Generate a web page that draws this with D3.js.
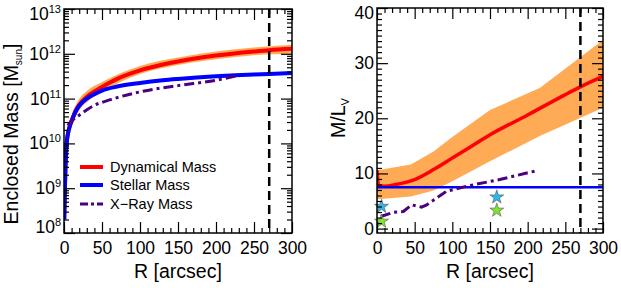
<!DOCTYPE html>
<html>
<head>
<meta charset="utf-8">
<script src="https://cdn.jsdelivr.net/npm/d3@7"></script>
<style>
  html, body { margin: 0; padding: 0; background: #fff; }
  svg { display: block; font-family: "Liberation Sans", Arial, Helvetica, sans-serif; }
</style>
</head>
<body>
<svg id="chart" width="621" height="288"></svg>
<script>
// ---------------- DATA ----------------
// Left panel: enclosed mass (log10 M_sun) vs R [arcsec]
const massRadius      = [0.3, 1, 2, 3.5, 5, 7, 10, 15, 20, 30, 40, 50, 70, 100, 130, 150, 200, 250, 270, 300];
const dynamicalLogM   = [8.3, 8.9, 9.5, 10.0, 10.2, 10.35, 10.5, 10.72, 10.86, 11.04, 11.16, 11.26, 11.44, 11.63, 11.76, 11.83, 11.96, 12.05, 12.08, 12.11];
const stellarLogM     = [8.3, 8.9, 9.5, 10.0, 10.2, 10.35, 10.5, 10.7, 10.84, 11.0, 11.1, 11.18, 11.27, 11.35, 11.41, 11.44, 11.5, 11.54, 11.55, 11.57];
const bandRadiusL     = [2, 5, 10, 20, 30, 50, 100, 150, 200, 250, 300];
const bandLowerLogM   = [9.4, 10.08, 10.38, 10.74, 10.92, 11.15, 11.55, 11.75, 11.88, 11.97, 12.0];
const bandUpperLogM   = [9.6, 10.3, 10.62, 10.99, 11.17, 11.37, 11.73, 11.92, 12.05, 12.14, 12.2];
const xrayRadiusL     = [5, 10, 20, 40, 60, 100, 150, 200, 228];
const xrayLogM        = [10.4, 10.5, 10.63, 10.85, 10.97, 11.15, 11.29, 11.41, 11.51];
const legendLabels    = ["Dynamical Mass", "Stellar Mass", "X\u2212Ray Mass"];

// Right panel: M/L_V vs R [arcsec]
const mlRadius        = [0, 2, 10, 25, 50, 75, 100, 125, 150, 200, 250, 270, 300];
const dynamicalML     = [10.6, 7.8, 7.7, 8.0, 8.9, 10.7, 12.8, 14.9, 17.0, 20.6, 24.3, 25.7, 27.6];
const bandRadiusR     = [0, 45, 75, 100, 150, 216, 300];
const bandLowerML     = [5.3, 5.8, 6.9, 8.6, 12.2, 16.8, 21.9];
const bandUpperML     = [10.6, 11.6, 14.0, 16.6, 21.5, 25.5, 34.2];
const stellarML       = 7.5;
const xrayRadiusR     = [5, 22, 35, 46, 59, 66, 92, 123, 163, 212];
const xrayML          = [2.2, 2.95, 3.1, 4.3, 3.9, 4.3, 6.75, 7.8, 8.9, 10.5];
const cyanStars       = [[6, 4.0], [159, 5.7]];
const greenStars      = [[6, 1.3], [159, 3.3]];
const radiusLimit     = 270;

const xTicks = [0, 50, 100, 150, 200, 250, 300];
const logTicks = [8, 9, 10, 11, 12, 13];
const mlTicks = [0, 10, 20, 30, 40];

// ---------------- STYLE ----------------
const ORANGE = "#ffaa55", RED = "#ff0000", BLUE = "#0000ff", PURPLE = "#4b0082";
const MAJ = 11, MIN = 5;

const svg = d3.select("#chart");

// scales
const xL = d3.scaleLinear().domain([0, 300]).range([64, 292]);
const yL = d3.scaleLog().domain([1e8, 1e13]).range([233, 9]);
const xR = d3.scaleLinear().domain([0, 300]).range([377, 603]);
const yR = d3.scaleLinear().domain([-0.8, 40]).range([233, 8]);

function frameAxes(g, x, y, yMajor, yMinor, opts) {
  const [x0, x1] = x.range();
  const [y0, y1] = y.range(); // y0 bottom, y1 top
  const xMinor = d3.range(0, 301, 10).filter(v => v % 50 !== 0);
  // bottom
  const b = g.append("g").attr("transform", `translate(0,${y0})`);
  b.call(d3.axisBottom(x).tickValues(xTicks).tickSize(-MAJ).tickPadding(9).tickFormat(d3.format("d")));
  b.append("g").call(d3.axisBottom(x).tickValues(xMinor).tickSize(-MIN).tickFormat(""));
  // top
  const t = g.append("g").attr("transform", `translate(0,${y1})`);
  t.call(d3.axisTop(x).tickValues(xTicks).tickSize(-MAJ).tickFormat(""));
  t.append("g").call(d3.axisTop(x).tickValues(xMinor).tickSize(-MIN).tickFormat(""));
  // left
  const l = g.append("g").attr("transform", `translate(${x0},0)`);
  l.call(d3.axisLeft(y).tickValues(yMajor).tickSize(-MAJ).tickFormat(""));
  l.append("g").call(d3.axisLeft(y).tickValues(yMinor).tickSize(-MIN).tickFormat(""));
  // right
  const r = g.append("g").attr("transform", `translate(${x1},0)`);
  r.call(d3.axisRight(y).tickValues(yMajor).tickSize(-MAJ).tickFormat(""));
  r.append("g").call(d3.axisRight(y).tickValues(yMinor).tickSize(-MIN).tickFormat(""));
  g.selectAll(".domain").remove();
  g.selectAll(".tick line").attr("stroke", "#000").attr("stroke-width", 1.2);
  g.selectAll(".tick text").attr("font-size", 17.5).attr("fill", "#000")
    .attr("font-family", "Liberation Sans, Arial, sans-serif");
  // frame
  g.append("rect").attr("x", x0).attr("y", y1).attr("width", x1 - x0).attr("height", y0 - y1)
    .attr("fill", "none").attr("stroke", "#000").attr("stroke-width", 1.5);
}

// ================= LEFT PANEL =================
const gL = svg.append("g");
const clipL = svg.append("clipPath").attr("id", "clipL").append("rect")
  .attr("x", 64).attr("y", 9).attr("width", 228).attr("height", 224);
const plotL = gL.append("g").attr("clip-path", "url(#clipL)");

const bandL = bandRadiusL.map((r, i) => ({ r, lo: bandLowerLogM[i], hi: bandUpperLogM[i] }));
plotL.append("path").datum(bandL)
  .attr("d", d3.area().curve(d3.curveMonotoneX).x(d => xL(d.r))
    .y0(d => yL(Math.pow(10, d.lo))).y1(d => yL(Math.pow(10, d.hi))))
  .attr("fill", ORANGE);

const lineL = d3.line().curve(d3.curveMonotoneX).x(d => xL(d[0])).y(d => yL(Math.pow(10, d[1])));
plotL.append("path").datum(massRadius.map((r, i) => [r, dynamicalLogM[i]]))
  .attr("d", lineL).attr("fill", "none").attr("stroke", RED).attr("stroke-width", 4);
plotL.append("path").datum(massRadius.map((r, i) => [r, stellarLogM[i]]))
  .attr("d", lineL).attr("fill", "none").attr("stroke", BLUE).attr("stroke-width", 4);
plotL.append("path").datum(xrayRadiusL.map((r, i) => [r, xrayLogM[i]]))
  .attr("d", lineL).attr("fill", "none").attr("stroke", PURPLE).attr("stroke-width", 3)
  .attr("stroke-dasharray", "10,4,3,4");
plotL.append("line").attr("x1", xL(radiusLimit)).attr("x2", xL(radiusLimit))
  .attr("y1", yL.range()[1]).attr("y2", yL.range()[0])
  .attr("stroke", "#000").attr("stroke-width", 2.5).attr("stroke-dasharray", "9,5");

const logMinor = [];
for (let e = 8; e < 13; e++) for (let m = 2; m <= 9; m++) logMinor.push(m * Math.pow(10, e));
frameAxes(gL, xL, yL, logTicks.map(e => Math.pow(10, e)), logMinor);

// log tick labels with superscripts
logTicks.forEach(e => {
  let yy = yL(Math.pow(10, e));
  if (e === 13) yy += 5;
  if (e === 8) yy -= 6;
  const t = gL.append("text").attr("x", 61).attr("y", yy + 6).attr("text-anchor", "end")
    .attr("font-size", 17.5).attr("fill", "#000");
  t.append("tspan").text("10");
  t.append("tspan").attr("dy", -7).attr("font-size", 11).text(e);
});

// legend
const legColors = [RED, BLUE, PURPLE];
const legY = [167, 185, 204];
legendLabels.forEach((lab, i) => {
  gL.append("line").attr("x1", 80).attr("x2", 103).attr("y1", legY[i]).attr("y2", legY[i])
    .attr("stroke", legColors[i]).attr("stroke-width", i === 2 ? 3 : 4)
    .attr("stroke-dasharray", i === 2 ? "8,3,3,3" : null);
  gL.append("text").attr("x", 110).attr("y", legY[i] + 5).attr("font-size", 14.5).attr("fill", "#000").text(lab);
});

// axis titles
gL.append("text").attr("x", 178).attr("y", 278).attr("text-anchor", "middle")
  .attr("font-size", 19.5).attr("fill", "#000").text("R [arcsec]");
const ytL = gL.append("text").attr("transform", "translate(18,134) rotate(-90)")
  .attr("text-anchor", "middle").attr("font-size", 19.5).attr("fill", "#000");
ytL.append("tspan").text("Enclosed Mass [M");
ytL.append("tspan").attr("font-size", 10).attr("dy", 4).text("sun");
ytL.append("tspan").attr("dy", -4).text("]");

// ================= RIGHT PANEL =================
const gR = svg.append("g");
svg.append("clipPath").attr("id", "clipR").append("rect")
  .attr("x", 377).attr("y", 8).attr("width", 226).attr("height", 225);
const plotR = gR.append("g").attr("clip-path", "url(#clipR)");

const bandR = bandRadiusR.map((r, i) => ({ r, lo: bandLowerML[i], hi: bandUpperML[i] }));
plotR.append("path").datum(bandR)
  .attr("d", d3.area().x(d => xR(d.r)).y0(d => yR(d.lo)).y1(d => yR(d.hi)))
  .attr("fill", ORANGE);

const lineR = d3.line().curve(d3.curveMonotoneX).x(d => xR(d[0])).y(d => yR(d[1]));
plotR.append("path").datum(mlRadius.map((r, i) => [r, dynamicalML[i]]))
  .attr("d", lineR).attr("fill", "none").attr("stroke", RED).attr("stroke-width", 3.5);
plotR.append("line").attr("x1", xR(0)).attr("x2", xR(300)).attr("y1", yR(stellarML)).attr("y2", yR(stellarML))
  .attr("stroke", BLUE).attr("stroke-width", 2.5);
plotR.append("path").datum(xrayRadiusR.map((r, i) => [r, xrayML[i]]))
  .attr("d", d3.line().x(d => xR(d[0])).y(d => yR(d[1])))
  .attr("fill", "none").attr("stroke", PURPLE).attr("stroke-width", 3)
  .attr("stroke-dasharray", "10,4,3,4");
plotR.append("line").attr("x1", xR(radiusLimit)).attr("x2", xR(radiusLimit))
  .attr("y1", yR.range()[1]).attr("y2", yR.range()[0])
  .attr("stroke", "#000").attr("stroke-width", 2.5).attr("stroke-dasharray", "9,5");

const star = d3.symbol().type(d3.symbolStar).size(60);
cyanStars.forEach(d => gR.append("path").attr("d", star)
  .attr("transform", `translate(${xR(d[0])},${yR(d[1])})`)
  .attr("fill", "#2ab8ee").attr("stroke", "#555").attr("stroke-width", 0.6));
greenStars.forEach(d => gR.append("path").attr("d", star)
  .attr("transform", `translate(${xR(d[0])},${yR(d[1])})`)
  .attr("fill", "#7fe52a").attr("stroke", "#555").attr("stroke-width", 0.6));

const mlMinor = d3.range(0, 41, 1).filter(v => v % 10 !== 0);
frameAxes(gR, xR, yR, mlTicks, mlMinor);
mlTicks.forEach(v => {
  let yy = yR(v);
  if (v === 40) yy += 5;
  gR.append("text").attr("x", 374).attr("y", yy + 6).attr("text-anchor", "end")
    .attr("font-size", 17.5).attr("fill", "#000").text(v);
});

gR.append("text").attr("x", 490).attr("y", 278).attr("text-anchor", "middle")
  .attr("font-size", 19.5).attr("fill", "#000").text("R [arcsec]");
const ytR = gR.append("text").attr("transform", "translate(345,118) rotate(-90)")
  .attr("text-anchor", "middle").attr("font-size", 19.5).attr("fill", "#000");
ytR.append("tspan").text("M/L");
ytR.append("tspan").attr("font-size", 11).attr("dy", 4).text("V");
</script>
</body>
</html>
